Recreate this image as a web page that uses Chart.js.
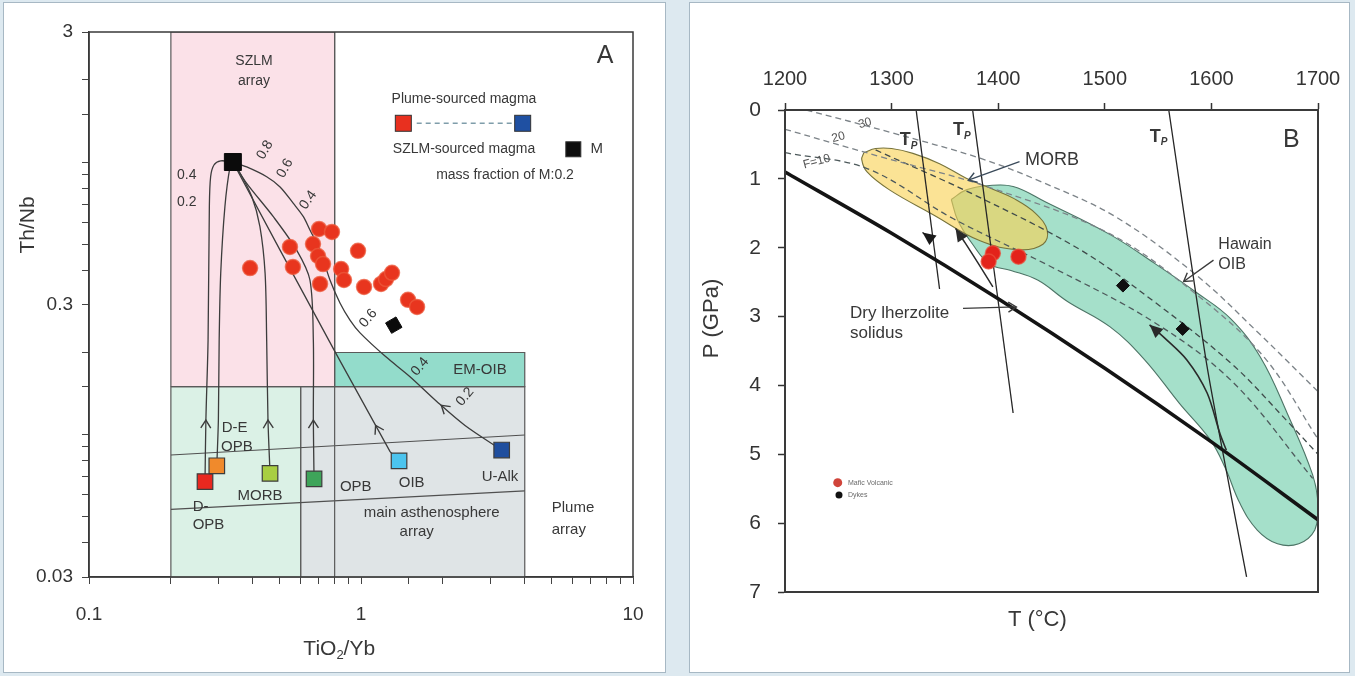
<!DOCTYPE html>
<html>
<head>
<meta charset="utf-8">
<title>Th/Nb – TiO2/Yb and P–T diagrams</title>
<script src="https://cdn.jsdelivr.net/npm/chart.js@4.4.1/dist/chart.umd.min.js"></script>
<style>
  html, body { margin: 0; padding: 0; width: 1355px; height: 676px; overflow: hidden; background: #dde9f0; }
  .panel { position: absolute; background: #fff; border: 1px solid #a7b8c4; box-sizing: border-box; }
  #panelA { left: 3px; top: 2px; width: 663px; height: 671px; }
  #panelB { left: 689px; top: 2px; width: 661px; height: 671px; }
  canvas { position: absolute; top: 0; }
  #chartA { left: 0; width: 680px; height: 676px; }
  #chartB { left: 680px; width: 675px; height: 676px; }
</style>
</head>
<body>
<div class="panel" id="panelA"></div>
<div class="panel" id="panelB"></div>
<canvas id="chartA" width="680" height="676"></canvas>
<canvas id="chartB" width="675" height="676"></canvas>
<script>
// ---------------- Panel A : Th/Nb vs TiO2/Yb ----------------
const yTickLabels = [0.03, 0.3, 3];
const xTickLabels = [0.1, 1, 10];

// mafic samples
const sampleTiYb = [0.391, 0.548, 0.562, 0.701, 0.782, 0.666, 0.695, 0.725, 0.707, 0.845, 0.866, 0.975, 1.026, 1.185, 1.236, 1.30, 1.489, 1.607];
const sampleThNb = [0.408, 0.488, 0.412, 0.568, 0.554, 0.500, 0.452, 0.422, 0.357, 0.405, 0.369, 0.472, 0.348, 0.357, 0.372, 0.392, 0.312, 0.294];

// plume-sourced end-members
const endMemberNames = ['D-OPB', 'D-E OPB', 'MORB', 'OPB', 'OIB', 'U-Alk'];
const endMemberTiYb = [0.267, 0.295, 0.463, 0.672, 1.38, 3.29];
const endMemberThNb = [0.0672, 0.0768, 0.072, 0.0687, 0.080, 0.0877];

// SZLM-sourced magma (M) and the modelled hybrid
const szlmMagmaTiYb = [0.338];
const szlmMagmaThNb = [1.0];
const hybridTiYb = [1.32];
const hybridThNb = [0.252];

// fields
const szlmField = [[0.2, 0.15], [0.2, 3], [0.8, 3], [0.8, 0.15]];
const depletedField = [[0.2, 0.03], [0.2, 0.15], [0.6, 0.15], [0.6, 0.03]];
const asthenosphereField = [[0.6, 0.03], [0.6, 0.15], [4, 0.15], [4, 0.03]];
const emOibField = [[0.8, 0.15], [0.8, 0.2], [4, 0.2], [4, 0.15]];
const szlmRightEdge = [[0.8, 0.03], [0.8, 3]];
const arrayUpper = [[0.2, 0.0841], [4, 0.0996]];
const arrayLower = [[0.2, 0.0531], [4, 0.0621]];

// mixing curves, end-member -> M
const mixToDOPB = [[0.267, 0.0672], [0.269, 0.113], [0.274, 0.222], [0.277, 0.686], [0.280, 0.883], [0.288, 0.975], [0.305, 1.01], [0.338, 1.0]];
const mixToDEOPB = [[0.295, 0.0768], [0.299, 0.113], [0.301, 0.222], [0.305, 0.391], [0.316, 0.686], [0.330, 0.961], [0.338, 1.0]];
const mixToMORB = [[0.463, 0.072], [0.455, 0.113], [0.450, 0.222], [0.444, 0.391], [0.425, 0.579], [0.397, 0.746], [0.354, 0.935], [0.338, 1.0]];
const mixToOPB = [[0.672, 0.0687], [0.668, 0.113], [0.668, 0.222], [0.649, 0.369], [0.580, 0.475], [0.476, 0.630], [0.380, 0.835], [0.338, 1.0]];
const mixToOIB = [[1.38, 0.080], [1.279, 0.0865], [0.803, 0.201], [0.504, 0.475], [0.338, 1.0]];
const mixToUAlk = [[3.29, 0.0877], [2.412, 0.108], [1.903, 0.132], [1.514, 0.163], [1.225, 0.194], [0.992, 0.236], [0.911, 0.263], [0.837, 0.304], [0.769, 0.369], [0.707, 0.475], [0.649, 0.563], [0.614, 0.630], [0.564, 0.705], [0.504, 0.81], [0.450, 0.883], [0.380, 0.959], [0.338, 1.0]];

// ---------------- Panel B : P–T ----------------
const tempTicks = [1200, 1300, 1400, 1500, 1600, 1700];
const pressureTicks = [0, 1, 2, 3, 4, 5, 6, 7];

const drySolidus = [[1200, 0.90], [1300, 1.79], [1400, 2.74], [1500, 3.75], [1600, 4.82], [1700, 5.95]];
const tpLine1 = [[1323, 0], [1345, 2.6]];
const tpLine2 = [[1376, 0], [1414, 4.40]];
const tpLine3 = [[1560, 0], [1596, 3.73], [1633, 6.78]];

const melt30 = [[1220, 0], [1300, 0.33], [1383, 0.70], [1440, 1.04], [1510, 1.55], [1586, 2.40], [1645, 3.25], [1700, 4.09]];
const melt20 = [[1200, 0.28], [1290, 0.68], [1389, 1.11], [1505, 1.80], [1586, 2.68], [1650, 3.60], [1700, 4.78]];
const melt10 = [[1200, 0.62], [1277, 0.85], [1358, 1.58], [1450, 2.28], [1546, 3.08], [1620, 3.95], [1695, 5.35]];
const meltCore = [[1285, 0.58], [1380, 1.25], [1477, 2.03], [1546, 2.78], [1620, 3.70], [1670, 4.50], [1700, 5.00]];

const morbField = [[1274, 0.62], [1285, 0.56], [1300, 0.56], [1320, 0.63], [1345, 0.78], [1370, 0.99], [1395, 1.15], [1414, 1.28], [1435, 1.50], [1446, 1.75], [1442, 1.95], [1420, 2.03], [1383, 1.90], [1339, 1.52], [1298, 1.16], [1277, 0.90], [1272, 0.72]];
const hawaiiField = [[1356, 1.30], [1370, 1.16], [1390, 1.10], [1414, 1.11], [1445, 1.34], [1505, 1.81], [1546, 2.22], [1586, 2.65], [1618, 3.03], [1646, 3.59], [1671, 4.40], [1695, 5.30], [1700, 5.75], [1697, 6.10], [1682, 6.30], [1662, 6.30], [1643, 6.10], [1627, 5.72], [1613, 5.20], [1599, 4.79], [1570, 4.26], [1537, 3.62], [1505, 3.15], [1465, 2.78], [1437, 2.47], [1412, 2.33], [1392, 2.24], [1376, 1.95], [1362, 1.60]];

const maficT = [1395, 1391, 1419];
const maficP = [2.08, 2.20, 2.13];
const dykeT = [1517, 1573];
const dykeP = [2.55, 3.18];

const pathTp1 = [[1336, 1.86], [1329, 1.78]];
const pathRise = [[1395, 2.57], [1381, 2.22], [1369, 1.93], [1360, 1.72]];
const pathPlume = [[1614, 4.94], [1608, 4.70], [1596, 4.11], [1577, 3.63], [1556, 3.31], [1542, 3.12]];
const pointerMorb = [[1420, 0.75], [1372, 1.02]];
const pointerOib = [[1602, 2.18], [1574, 2.49]];
const pointerSolidus = [[1367, 2.88], [1417, 2.86]];

// ---------------- helpers ----------------
const FONT = "'Liberation Sans', Arial, Helvetica, sans-serif";
const TEXT = '#383838';
const pairs = pts => pts.map(p => ({ x: p[0], y: p[1] }));
const closed = pts => pts.concat([pts[0]]);
const zip = (xs, ys) => xs.map((x, i) => ({ x, y: ys[i] }));
const match = (v, list) => list.find(t => Math.abs(v - t) <= Math.abs(t) * 1e-6 + 1e-12);

function field(pts, color, order, extra) {
  return Object.assign({
    type: 'line', data: pairs(closed(pts)), fill: 'shape', backgroundColor: color,
    borderColor: '#5a5a5a', borderWidth: 1.2, pointRadius: 0, pointHoverRadius: 0, tension: 0, order
  }, extra || {});
}
function path(pts, extra) {
  return Object.assign({
    type: 'line', data: pairs(pts), fill: false, borderColor: '#3c3c3c', borderWidth: 1.3,
    pointRadius: 0, pointHoverRadius: 0, tension: 0, order: 10
  }, extra || {});
}

function drawHead(ctx, x, y, ang, kind, color) {
  ctx.save();
  ctx.translate(x, y);
  ctx.rotate(ang);
  ctx.fillStyle = color; ctx.strokeStyle = color; ctx.lineWidth = 1.4;
  ctx.beginPath();
  if (kind === 'filled') {
    ctx.moveTo(0, 0); ctx.lineTo(-13, -6); ctx.lineTo(-13, 6); ctx.closePath(); ctx.fill();
  } else {
    ctx.moveTo(-8, -5); ctx.lineTo(0, 0); ctx.lineTo(-8, 5); ctx.stroke();
  }
  ctx.restore();
}

// arrowheads at path ends, chevrons part-way along mixing curves
const headsPlugin = {
  id: 'heads',
  afterDatasetsDraw(chart) {
    const ctx = chart.ctx;
    chart.data.datasets.forEach((ds, i) => {
      const pts = chart.getDatasetMeta(i).data;
      if (ds.chevronAt !== undefined) {
        const ty = chart.scales.y.getPixelForValue(ds.chevronAt);
        for (let k = 0; k < pts.length - 1; k++) {
          const a = pts[k], b = pts[k + 1];
          if ((a.y - ty) * (b.y - ty) <= 0 && a.y !== b.y) {
            const t = (ty - a.y) / (b.y - a.y);
            drawHead(ctx, a.x + t * (b.x - a.x), ty, Math.atan2(b.y - a.y, b.x - a.x), 'open', ds.borderColor);
            break;
          }
        }
      }
      if (ds.arrowHead) {
        const a = pts[pts.length - 2], b = pts[pts.length - 1];
        drawHead(ctx, b.x, b.y, Math.atan2(b.y - a.y, b.x - a.x), ds.arrowHead, ds.borderColor);
      }
    });
  }
};

function notesPlugin(id, items, frameWidth) {
  return {
    id,
    afterDraw(chart) {
      const { ctx, chartArea: a } = chart;
      const W = a.right - a.left, H = a.bottom - a.top;
      ctx.save();
      ctx.strokeStyle = '#3a3a3a';
      ctx.lineWidth = frameWidth;
      ctx.strokeRect(a.left, a.top, W, H);
      ctx.restore();
      items.forEach(it => {
        const x = a.left + it.fx * W, y = a.top + it.fy * H;
        ctx.save();
        ctx.translate(x, y);
        if (it.rot) ctx.rotate(it.rot * Math.PI / 180);
        const col = it.color || TEXT;
        ctx.fillStyle = col; ctx.strokeStyle = col;
        ctx.textBaseline = 'middle';
        if (it.kind === 'square') {
          const s = it.size;
          ctx.fillRect(-s / 2, -s / 2, s, s);
          ctx.strokeStyle = '#333'; ctx.lineWidth = 1;
          ctx.strokeRect(-s / 2, -s / 2, s, s);
        } else if (it.kind === 'dash') {
          ctx.lineWidth = 1.6; ctx.setLineDash([5, 4]);
          ctx.beginPath(); ctx.moveTo(0, 0); ctx.lineTo(it.len * W, 0); ctx.stroke();
        } else if (it.kind === 'dot') {
          ctx.beginPath(); ctx.arc(0, 0, it.r, 0, Math.PI * 2); ctx.fill();
        } else if (it.kind === 'tp') {
          ctx.font = 'bold 18px ' + FONT; ctx.textAlign = 'left';
          ctx.fillText('T', -7, 0);
          const w = ctx.measureText('T').width;
          ctx.font = 'italic bold 10px ' + FONT;
          ctx.fillText('P', -7 + w, 6);
        } else if (it.kind === 'sub') {
          const big = it.size + 'px ' + FONT, small = Math.round(it.size * 0.62) + 'px ' + FONT;
          ctx.font = big; const w1 = ctx.measureText(it.t[0]).width, w3 = ctx.measureText(it.t[2]).width;
          ctx.font = small; const w2 = ctx.measureText(it.t[1]).width;
          let x0 = -(w1 + w2 + w3) / 2;
          ctx.textAlign = 'left';
          ctx.font = big; ctx.fillText(it.t[0], x0, 0);
          ctx.font = small; ctx.fillText(it.t[1], x0 + w1, it.size * 0.3);
          ctx.font = big; ctx.fillText(it.t[2], x0 + w1 + w2, 0);
        } else {
          ctx.font = (it.bold ? 'bold ' : '') + (it.size || 15) + 'px ' + FONT;
          ctx.textAlign = it.align || 'center';
          ctx.fillText(it.t, 0, 0);
        }
        ctx.restore();
      });
    }
  };
}

// ---------------- chart A ----------------
const notesA = [
  { t: 'Th/Nb', fx: -0.112, fy: 0.354, size: 21, rot: -90 },
  { kind: 'sub', t: ['TiO', '2', '/Yb'], fx: 0.46, fy: 1.132, size: 21 },
  { t: 'A', fx: 0.9485, fy: 0.045, size: 25 },
  { t: 'SZLM', fx: 0.3033, fy: 0.0527, size: 14 },
  { t: 'array', fx: 0.3033, fy: 0.0908, size: 14 },
  { t: 'Plume-sourced magma', fx: 0.6893, fy: 0.1235, size: 14 },
  { kind: 'dash', fx: 0.6024, fy: 0.1675, len: 0.175, color: '#7f9daa' },
  { kind: 'square', fx: 0.5778, fy: 0.1675, size: 16, color: '#e8301f' },
  { kind: 'square', fx: 0.7972, fy: 0.1675, size: 16, color: '#1f50a2' },
  { t: 'SZLM-sourced magma', fx: 0.6893, fy: 0.2152, size: 14 },
  { kind: 'square', fx: 0.8903, fy: 0.2152, size: 15, color: '#0d0d0d' },
  { t: 'M', fx: 0.9333, fy: 0.2152, size: 15 },
  { t: 'mass fraction of M:0.2', fx: 0.7647, fy: 0.2624, size: 14 },
  { t: 'EM-OIB', fx: 0.7188, fy: 0.6202, size: 15 },
  { t: 'D-E', fx: 0.2439, fy: 0.726, size: 15, align: 'left' },
  { t: 'OPB', fx: 0.2426, fy: 0.762, size: 15, align: 'left' },
  { t: 'D-', fx: 0.1906, fy: 0.871, size: 15, align: 'left' },
  { t: 'OPB', fx: 0.1906, fy: 0.9046, size: 15, align: 'left' },
  { t: 'MORB', fx: 0.3143, fy: 0.8514, size: 15 },
  { t: 'OPB', fx: 0.4903, fy: 0.8343, size: 15 },
  { t: 'OIB', fx: 0.5932, fy: 0.828, size: 15 },
  { t: 'U-Alk', fx: 0.7555, fy: 0.816, size: 15 },
  { t: 'main asthenosphere', fx: 0.63, fy: 0.882, size: 15 },
  { t: 'array', fx: 0.6024, fy: 0.918, size: 15 },
  { t: 'Plume', fx: 0.8506, fy: 0.874, size: 15, align: 'left' },
  { t: 'array', fx: 0.8506, fy: 0.9138, size: 15, align: 'left' },
  { t: '0.4', fx: 0.1796, fy: 0.2624, size: 14 },
  { t: '0.2', fx: 0.1796, fy: 0.3114, size: 14 },
  { t: '0.8', fx: 0.3235, fy: 0.2165, size: 14, rot: -60 },
  { t: '0.6', fx: 0.3603, fy: 0.2501, size: 14, rot: -60 },
  { t: '0.4', fx: 0.4031, fy: 0.3083, size: 14, rot: -55 },
  { t: '0.6', fx: 0.5134, fy: 0.5253, size: 14, rot: -50 },
  { t: '0.4', fx: 0.6085, fy: 0.6141, size: 14, rot: -50 },
  { t: '0.2', fx: 0.6912, fy: 0.6692, size: 14, rot: -50 }
];

const endMemberColors = ['#e8281f', '#f08a2c', '#a8ce42', '#3ea45a', '#4cc4ee', '#1f4e9e'];

const logTicks = (list) => ({
  autoSkip: false, maxRotation: 0, color: '#333', font: { size: 19, family: FONT },
  callback(v) { const hit = match(v, list); return hit === undefined ? '' : String(hit); }
});

new Chart(document.getElementById('chartA'), {
  type: 'scatter',
  data: {
    datasets: [
      field(szlmField, '#fbe1e8', 30),
      field(depletedField, '#dbf1e6', 30),
      field(asthenosphereField, '#dfe4e6', 30),
      field(emOibField, '#93dccb', 29),
      path(szlmRightEdge, { borderColor: '#5a5a5a', borderWidth: 1.2, order: 28 }),
      path(arrayUpper, { borderColor: '#505050', borderWidth: 1.2, order: 28 }),
      path(arrayLower, { borderColor: '#505050', borderWidth: 1.2, order: 28 }),
      path(mixToDOPB, { tension: 0.3, chevronAt: 0.113 }),
      path(mixToDEOPB, { tension: 0.3 }),
      path(mixToMORB, { tension: 0.3, chevronAt: 0.113 }),
      path(mixToOPB, { tension: 0.3, chevronAt: 0.113 }),
      path(mixToOIB, { tension: 0, chevronAt: 0.108 }),
      path(mixToUAlk, { tension: 0.3, chevronAt: 0.128 }),
      {
        label: 'Mafic samples', data: zip(sampleTiYb, sampleThNb), pointStyle: 'circle', pointRadius: 7.5,
        backgroundColor: '#e8351e', borderColor: 'rgba(236,90,60,0.75)', borderWidth: 1.5, order: 5
      },
      {
        label: 'End-members', data: zip(endMemberTiYb, endMemberThNb), pointStyle: 'rect', pointRadius: 11,
        backgroundColor: endMemberColors, borderColor: '#3d3d3d', borderWidth: 1.2, order: 3
      },
      {
        label: 'M', data: zip(szlmMagmaTiYb, szlmMagmaThNb), pointStyle: 'rect', pointRadius: 12,
        backgroundColor: '#0b0b0b', borderColor: '#0b0b0b', borderWidth: 1, order: 2
      },
      {
        label: 'Hybrid', data: zip(hybridTiYb, hybridThNb), pointStyle: 'rect', rotation: -30, pointRadius: 8.5,
        backgroundColor: '#0b0b0b', borderColor: '#0b0b0b', borderWidth: 1, order: 2
      }
    ]
  },
  options: {
    responsive: false, animation: false, events: [],
    layout: { padding: { top: 32, right: 47, left: 0, bottom: 0 } },
    plugins: { legend: { display: false }, tooltip: { enabled: false } },
    scales: {
      x: {
        type: 'logarithmic', min: 0.1, max: 10, position: 'bottom',
        ticks: Object.assign(logTicks(xTickLabels), { padding: 19 }),
        grid: { drawOnChartArea: false, drawTicks: true, tickLength: 7, color: '#444', tickWidth: 1 },
        border: { display: true, color: '#3a3a3a', width: 1.5 },
        afterFit(s) { s.height = 99; }
      },
      y: {
        type: 'logarithmic', min: 0.03, max: 3, position: 'left',
        ticks: Object.assign(logTicks(yTickLabels), { padding: 9 }),
        grid: { drawOnChartArea: false, drawTicks: true, tickLength: 7, color: '#444', tickWidth: 1 },
        border: { display: true, color: '#3a3a3a', width: 1.5 },
        afterFit(s) { s.width = 89; }
      }
    }
  },
  plugins: [headsPlugin, notesPlugin('notesA', notesA, 1.5)]
});

// ---------------- chart B ----------------
const notesB = [
  { t: 'P (GPa)', fx: -0.1364, fy: 0.4326, size: 22, rot: -90 },
  { t: 'T (°C)', fx: 0.4734, fy: 1.058, size: 22 },
  { t: 'B', fx: 0.95, fy: 0.0622, size: 25 },
  { t: 'MORB', fx: 0.5009, fy: 0.1037, size: 18 },
  { t: 'Hawain', fx: 0.813, fy: 0.2801, size: 16, align: 'left' },
  { t: 'OIB', fx: 0.813, fy: 0.3216, size: 16, align: 'left' },
  { t: 'Dry lherzolite', fx: 0.122, fy: 0.4218, size: 17, align: 'left' },
  { t: 'solidus', fx: 0.122, fy: 0.4633, size: 17, align: 'left' },
  { kind: 'tp', fx: 0.2283, fy: 0.0622 },
  { kind: 'tp', fx: 0.3283, fy: 0.0415 },
  { kind: 'tp', fx: 0.6974, fy: 0.0554 },
  { t: '30', fx: 0.1501, fy: 0.0276, size: 12, rot: -15, color: '#555' },
  { t: '20', fx: 0.10, fy: 0.0566, size: 12, rot: -15, color: '#555' },
  { t: 'F=10', fx: 0.0595, fy: 0.1073, size: 12, rot: -15, color: '#555' },
  { kind: 'dot', fx: 0.0989, fy: 0.7732, r: 4.5, color: '#d0443a' },
  { t: 'Mafic Volcanic', fx: 0.1182, fy: 0.7732, size: 7, align: 'left', color: '#6a6a6a' },
  { kind: 'dot', fx: 0.1013, fy: 0.7988, r: 3.5, color: '#111' },
  { t: 'Dykes', fx: 0.1182, fy: 0.7988, size: 7, align: 'left', color: '#6a6a6a' }
];

const dashed = (pts, color) => path(pts, { borderColor: color, borderWidth: 1.3, borderDash: [6, 4], tension: 0.35, order: 20 });

new Chart(document.getElementById('chartB'), {
  type: 'scatter',
  data: {
    datasets: [
      field(hawaiiField, '#a5e0ca', 40, { tension: 0.4, borderColor: '#4d7466', borderWidth: 1.1 }),
      field(morbField, 'rgba(248,210,84,0.62)', 39, { tension: 0.4, borderColor: '#77733c', borderWidth: 1.1 }),
      dashed(melt30, '#7c8388'),
      dashed(melt20, '#7c8388'),
      dashed(melt10, '#4e5a5c'),
      dashed(meltCore, '#3f4a4a'),
      path(tpLine1, { borderColor: '#262626', borderWidth: 1.3, order: 15 }),
      path(tpLine2, { borderColor: '#262626', borderWidth: 1.3, order: 15 }),
      path(tpLine3, { borderColor: '#262626', borderWidth: 1.3, order: 15, tension: 0.2 }),
      path(drySolidus, { borderColor: '#141414', borderWidth: 3.6, order: 14, tension: 0.3 }),
      path(pathTp1, { borderColor: '#1a1a1a', borderWidth: 1.3, order: 12, arrowHead: 'filled' }),
      path(pathRise, { borderColor: '#2a2a2a', borderWidth: 1.5, order: 12, tension: 0.3, arrowHead: 'filled' }),
      path(pathPlume, { borderColor: '#2a2a2a', borderWidth: 1.6, order: 12, tension: 0.3, arrowHead: 'filled' }),
      path(pointerMorb, { borderColor: '#3a4a5a', borderWidth: 1.3, order: 12, arrowHead: 'open' }),
      path(pointerOib, { borderColor: '#3a3a3a', borderWidth: 1.3, order: 12, arrowHead: 'open' }),
      path(pointerSolidus, { borderColor: '#3a3a3a', borderWidth: 1.3, order: 12, arrowHead: 'open' }),
      {
        label: 'Mafic Volcanic', data: zip(maficT, maficP), pointStyle: 'circle', pointRadius: 7.5,
        backgroundColor: '#e3231b', borderColor: 'rgba(235,80,60,0.7)', borderWidth: 1.5, order: 5
      },
      {
        label: 'Dykes', data: zip(dykeT, dykeP), pointStyle: 'rectRot', pointRadius: 6.5,
        backgroundColor: '#101010', borderColor: '#101010', borderWidth: 1, order: 5
      }
    ]
  },
  options: {
    responsive: false, animation: false, events: [],
    layout: { padding: { top: 0, right: 37, left: 0, bottom: 84 } },
    plugins: { legend: { display: false }, tooltip: { enabled: false } },
    scales: {
      x: {
        type: 'linear', position: 'top', min: tempTicks[0], max: tempTicks[tempTicks.length - 1],
        afterBuildTicks(s) { s.ticks = tempTicks.map(v => ({ value: v })); },
        ticks: { autoSkip: false, maxRotation: 0, padding: 12, color: '#333', font: { size: 20, family: FONT }, callback: v => String(v) },
        grid: { drawOnChartArea: false, drawTicks: true, tickLength: 7, color: '#333', tickWidth: 1.5 },
        border: { display: true, color: '#333', width: 2 },
        afterFit(s) { s.height = 110; }
      },
      y: {
        type: 'linear', reverse: true, min: pressureTicks[0], max: pressureTicks[pressureTicks.length - 1],
        afterBuildTicks(s) { s.ticks = pressureTicks.map(v => ({ value: v })); },
        ticks: { autoSkip: false, padding: 17, color: '#333', font: { size: 21, family: FONT }, callback: v => String(v) },
        grid: { drawOnChartArea: false, drawTicks: true, tickLength: 7, color: '#333', tickWidth: 1.5 },
        border: { display: true, color: '#333', width: 2 },
        afterFit(s) { s.width = 105; }
      }
    }
  },
  plugins: [headsPlugin, notesPlugin('notesB', notesB, 2)]
});
</script>
</body>
</html>
